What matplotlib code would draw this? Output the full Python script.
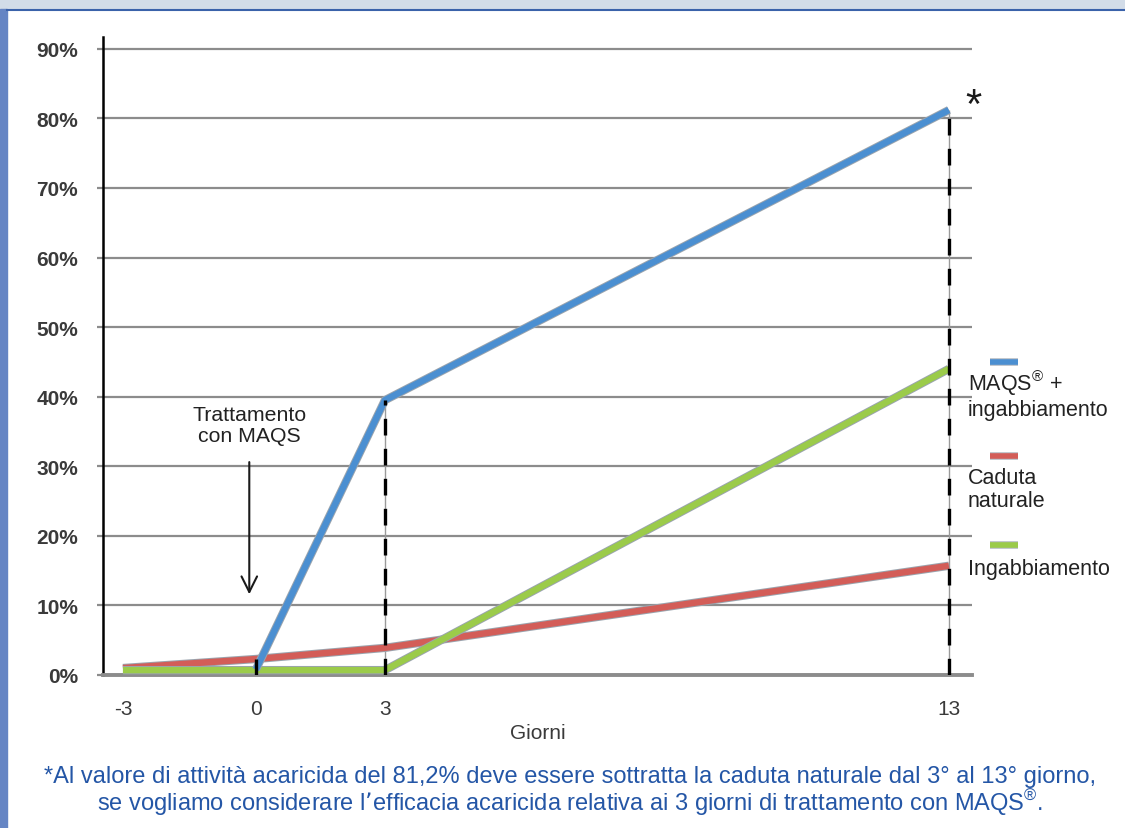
import numpy as np
import matplotlib
matplotlib.use('Agg')
import matplotlib.pyplot as plt
import matplotlib.patheffects as pe
from matplotlib.lines import Line2D
from matplotlib.patches import Rectangle

plt.rcParams['font.family'] = ['Liberation Sans', 'DejaVu Sans']

# data (percent)
giorni = [-3, 0, 3, 13]
giorni_maqs = [0, 3, 13]
maqs_ingabbiamento = [0.8, 39.5, 81.2]
caduta_naturale = [1.0, 2.3, 3.9, 15.7]
ingabbiamento = [0.7, 0.7, 0.7, 44.0]

y_ticks = list(range(0, 100, 10))
legend_labels = ['MAQS$^{\\mathregular{®}}$ +\ningabbiamento', 'Caduta\nnaturale', 'Ingabbiamento']
colors = ['#4b8fd1', '#d35d58', '#9bcb4a']

W, H = 1125, 829
fig = plt.figure(figsize=(W / 100, H / 100), dpi=100)
fig.patch.set_facecolor('white')

# frame of the page
fig.patches.append(Rectangle((0, 1 - 10 / H), 1, 10 / H, transform=fig.transFigure,
                             color='#d2dce8', zorder=0))
fig.patches.append(Rectangle((0, 0), 7 / W, 1 - 10 / H, transform=fig.transFigure,
                             color='#6585c4', zorder=0))
fig.add_artist(Line2D([7 / W, 1], [1 - 10.5 / H] * 2, color='#3a62aa', lw=1.5))

ax = fig.add_axes([103 / W, 1 - 676 / H, (972 - 103) / W, (676 - 38) / H])

# the x axis of the original is not linear: tick spacing measured on the picture
tick_gap = [0, 133, 262, 826]
slope_l = (tick_gap[1] - tick_gap[0]) / (giorni[1] - giorni[0])
slope_r = (tick_gap[3] - tick_gap[2]) / (giorni[3] - giorni[2])
kd = np.array([giorni[0] - 100] + giorni + [giorni[-1] + 100], dtype=float)
kp = np.array([tick_gap[0] - 100 * slope_l] + tick_gap + [tick_gap[-1] + 100 * slope_r])


def fwd(x):
    return np.interp(x, kd, kp)


def inv(p):
    return np.interp(p, kp, kd)


ax.set_xscale('function', functions=(fwd, inv))
ax.set_xlim(-3.45, 13.41)
ax.set_ylim(0, 91.7)

edge = [pe.Stroke(linewidth=6.0, foreground='#9aa4ae'), pe.Normal()]
ax.plot(giorni, caduta_naturale, color=colors[1], lw=4.6, solid_capstyle='butt',
        path_effects=edge, zorder=3)
ax.plot(giorni, ingabbiamento, color=colors[2], lw=4.6, solid_capstyle='butt',
        path_effects=edge, zorder=4)
ax.plot(giorni_maqs, maqs_ingabbiamento, color=colors[0], lw=4.6, solid_capstyle='butt',
        path_effects=edge, zorder=5)

# dashed drop lines from the top value at each treatment day
tops = [max(b, r, g) for b, r, g in zip(maqs_ingabbiamento, caduta_naturale[1:], ingabbiamento[1:])]
ax.vlines(giorni_maqs, 0, tops, color='#9a9a9a', lw=1, zorder=2)
ax.vlines(giorni_maqs, 0, tops, color='black', lw=2.4, linestyles=(0, (5.0, 4.0)), zorder=6)

ax.set_yticks(y_ticks)
ax.set_yticklabels(['%d%%' % v for v in y_ticks])
ax.set_xticks(giorni)
ax.set_xticklabels([str(g) for g in giorni])
ax.yaxis.grid(True, color='#8c8c8c', lw=1.6)
ax.set_axisbelow(True)

for s in ['top', 'right']:
    ax.spines[s].set_visible(False)
ax.spines['left'].set_color('black')
ax.spines['left'].set_linewidth(1.8)
ax.spines['bottom'].set_color('#8c8c8c')
ax.spines['bottom'].set_linewidth(2.8)

ax.tick_params(axis='y', length=4, width=1.6, color='#8c8c8c', pad=14,
               labelsize=15, labelcolor='#3a3a3a')
ax.tick_params(axis='x', length=0, pad=17, labelsize=15, labelcolor='#3a3a3a')
for t in ax.get_yticklabels():
    t.set_fontweight('bold')

ax.set_xlabel('Giorni', fontsize=15, color='#3a3a3a', labelpad=4)

# annotation for the treatment
ax.annotate('', xy=(-0.15, 11.2), xytext=(-0.15, 31.0),
            arrowprops=dict(arrowstyle='->', lw=1.5, color='#1a1a1a', mutation_scale=28))
ax.text(-0.15, 35.9, 'Trattamento\ncon MAQS', ha='center', va='center',
        fontsize=15.3, color='#222222', linespacing=1.1)

ax.annotate('*', xy=(giorni_maqs[-1], maqs_ingabbiamento[-1]), xytext=(18, -5),
            textcoords='offset points', fontsize=30, ha='center', va='baseline',
            color='#1a1a1a', annotation_clip=False)

# legend: swatch above the label
leg_y = [363, 457, 546]
leg_text_y = [369, 468, 559]
for lab, col, y, ty in zip(legend_labels, colors, leg_y, leg_text_y):
    fig.add_artist(Line2D([990 / W, 1018 / W], [1 - y / H] * 2, color=col, lw=4.0,
                          solid_capstyle='butt',
                          path_effects=[pe.Stroke(linewidth=5.4, foreground='#b0b7bf'), pe.Normal()]))
    fig.text(968 / W, 1 - ty / H, lab, ha='left', va='top', fontsize=15.5,
             color='#222222', linespacing=1.1)

fig.text(570 / W, 1 - 792 / H,
         '*Al valore di attività acaricida del 81,2% deve essere sottratta la caduta naturale '
         'dal 3° al 13° giorno,\nse vogliamo considerare l’efficacia acaricida relativa ai 3 '
         'giorni di trattamento con MAQS$^{\\mathregular{®}}$.',
         ha='center', va='center', fontsize=17, color='#2456a6', linespacing=0.95)

fig.savefig('out.png', dpi=100)
